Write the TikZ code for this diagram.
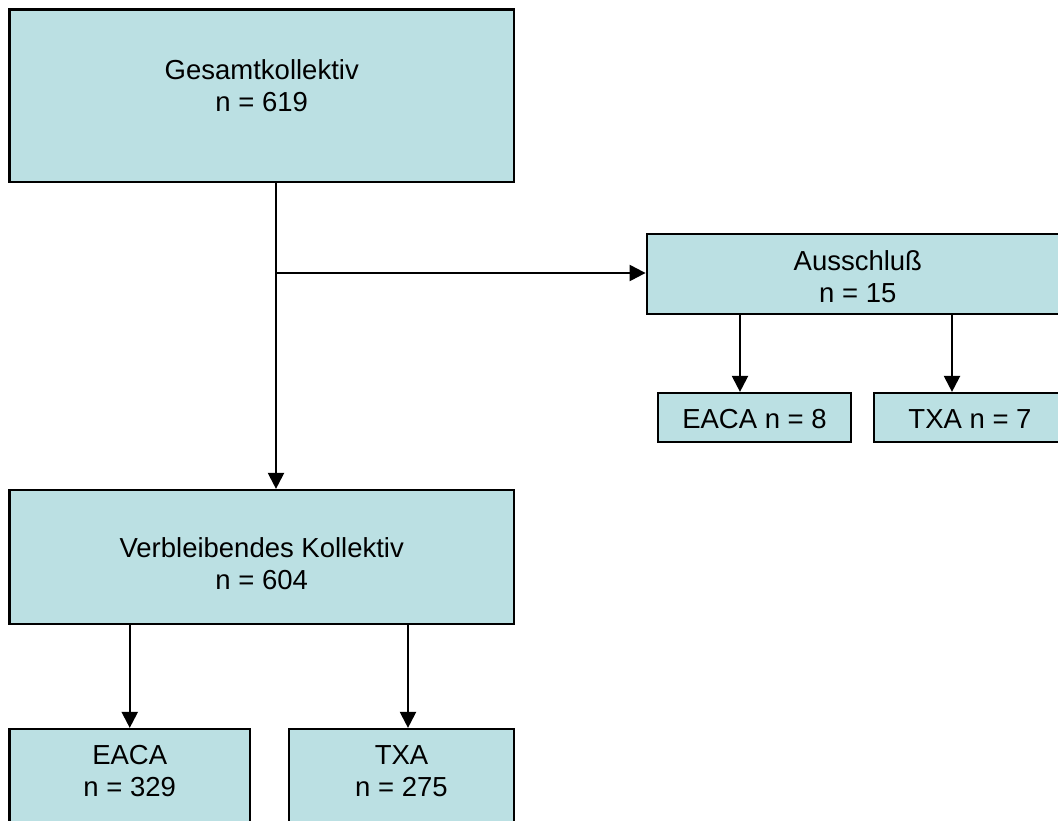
\documentclass[tikz,border=0pt]{standalone}
\usepackage{fontspec}
\setmainfont{Liberation Sans}
\usepackage{xcolor}
\usetikzlibrary{arrows.meta}
\definecolor{boxfill}{RGB}{187,224,227}

\tikzset{
    box/.style={draw=black, line width=2.2pt, fill=boxfill, inner sep=0pt},
    boxtext/.style={align=center, font=\fontsize{27.5}{32}\selectfont, inner sep=0pt},
    linie/.style={line width=2.2pt},
    pfeil/.style={line width=2.2pt, -{Triangle[length=16pt,width=16pt]}}
}

\begin{document}
\begin{tikzpicture}[x=1pt,y=-1pt]
        \useasboundingbox (0,0) rectangle (1058,820);
        % Kaesten
        \node[box, minimum width=504.5pt, minimum height=172.5pt] (gesamt) at (261.75,95.75) {};
        \node[box, minimum width=422.3pt, minimum height=80pt] (ausschluss) at (857.85,274) {};
        \node[box, minimum width=193pt, minimum height=49pt] (eacaklein) at (754.5,417.5) {};
        \node[box, minimum width=192pt, minimum height=49pt] (txaklein) at (970,417.5) {};
        \node[box, minimum width=504.5pt, minimum height=134pt] (verbl) at (261.75,557) {};
        \node[box, minimum width=240.5pt, minimum height=101pt] (eaca) at (129.75,779.5) {};
        \node[box, minimum width=225pt, minimum height=101pt] (txa) at (401.5,779.5) {};
        % Beschriftung
        \node[boxtext] (gesamttext) at ([yshift=10pt]gesamt.center) {Gesamtkollektiv\\n = 619};
        \node[boxtext] (ausschlusstext) at ([yshift=-3pt]ausschluss.center) {Ausschluß\\n = 15};
        \node[boxtext] (eacakleintext) at ([yshift=-1.5pt]eacaklein.center) {EACA n = 8};
        \node[boxtext] (txakleintext) at ([yshift=-1.5pt]txaklein.center) {TXA n = 7};
        \node[boxtext] (verbltext) at ([yshift=-7pt]verbl.center) {Verbleibendes Kollektiv\\n = 604};
        \node[boxtext] (eacatext) at ([yshift=8.5pt]eaca.center) {EACA\\n = 329};
        \node[boxtext] (txatext) at ([yshift=8.5pt]txa.center) {TXA\\n = 275};
        % Verbindungen
        \coordinate (abzweig) at (276,273);
        \coordinate (eacakleinein) at ([xshift=-14.5pt]eacaklein.north);
        \coordinate (txakleinein) at ([xshift=-18pt]txaklein.north);
        \coordinate (txaein) at ([xshift=6.5pt]txa.north);
        \draw[linie] (gesamt.south -| abzweig) -- (abzweig);
        \draw[pfeil] (abzweig) -- (abzweig -| ausschluss.west);
        \draw[pfeil] (abzweig) -- (verbl.north -| abzweig);
        \draw[pfeil] (ausschluss.south -| eacakleinein) -- (eacakleinein);
        \draw[pfeil] (ausschluss.south -| txakleinein) -- (txakleinein);
        \draw[pfeil] (verbl.south -| eaca.north) -- (eaca.north);
        \draw[pfeil] (verbl.south -| txaein) -- (txaein);
    \end{tikzpicture}
\end{document}
